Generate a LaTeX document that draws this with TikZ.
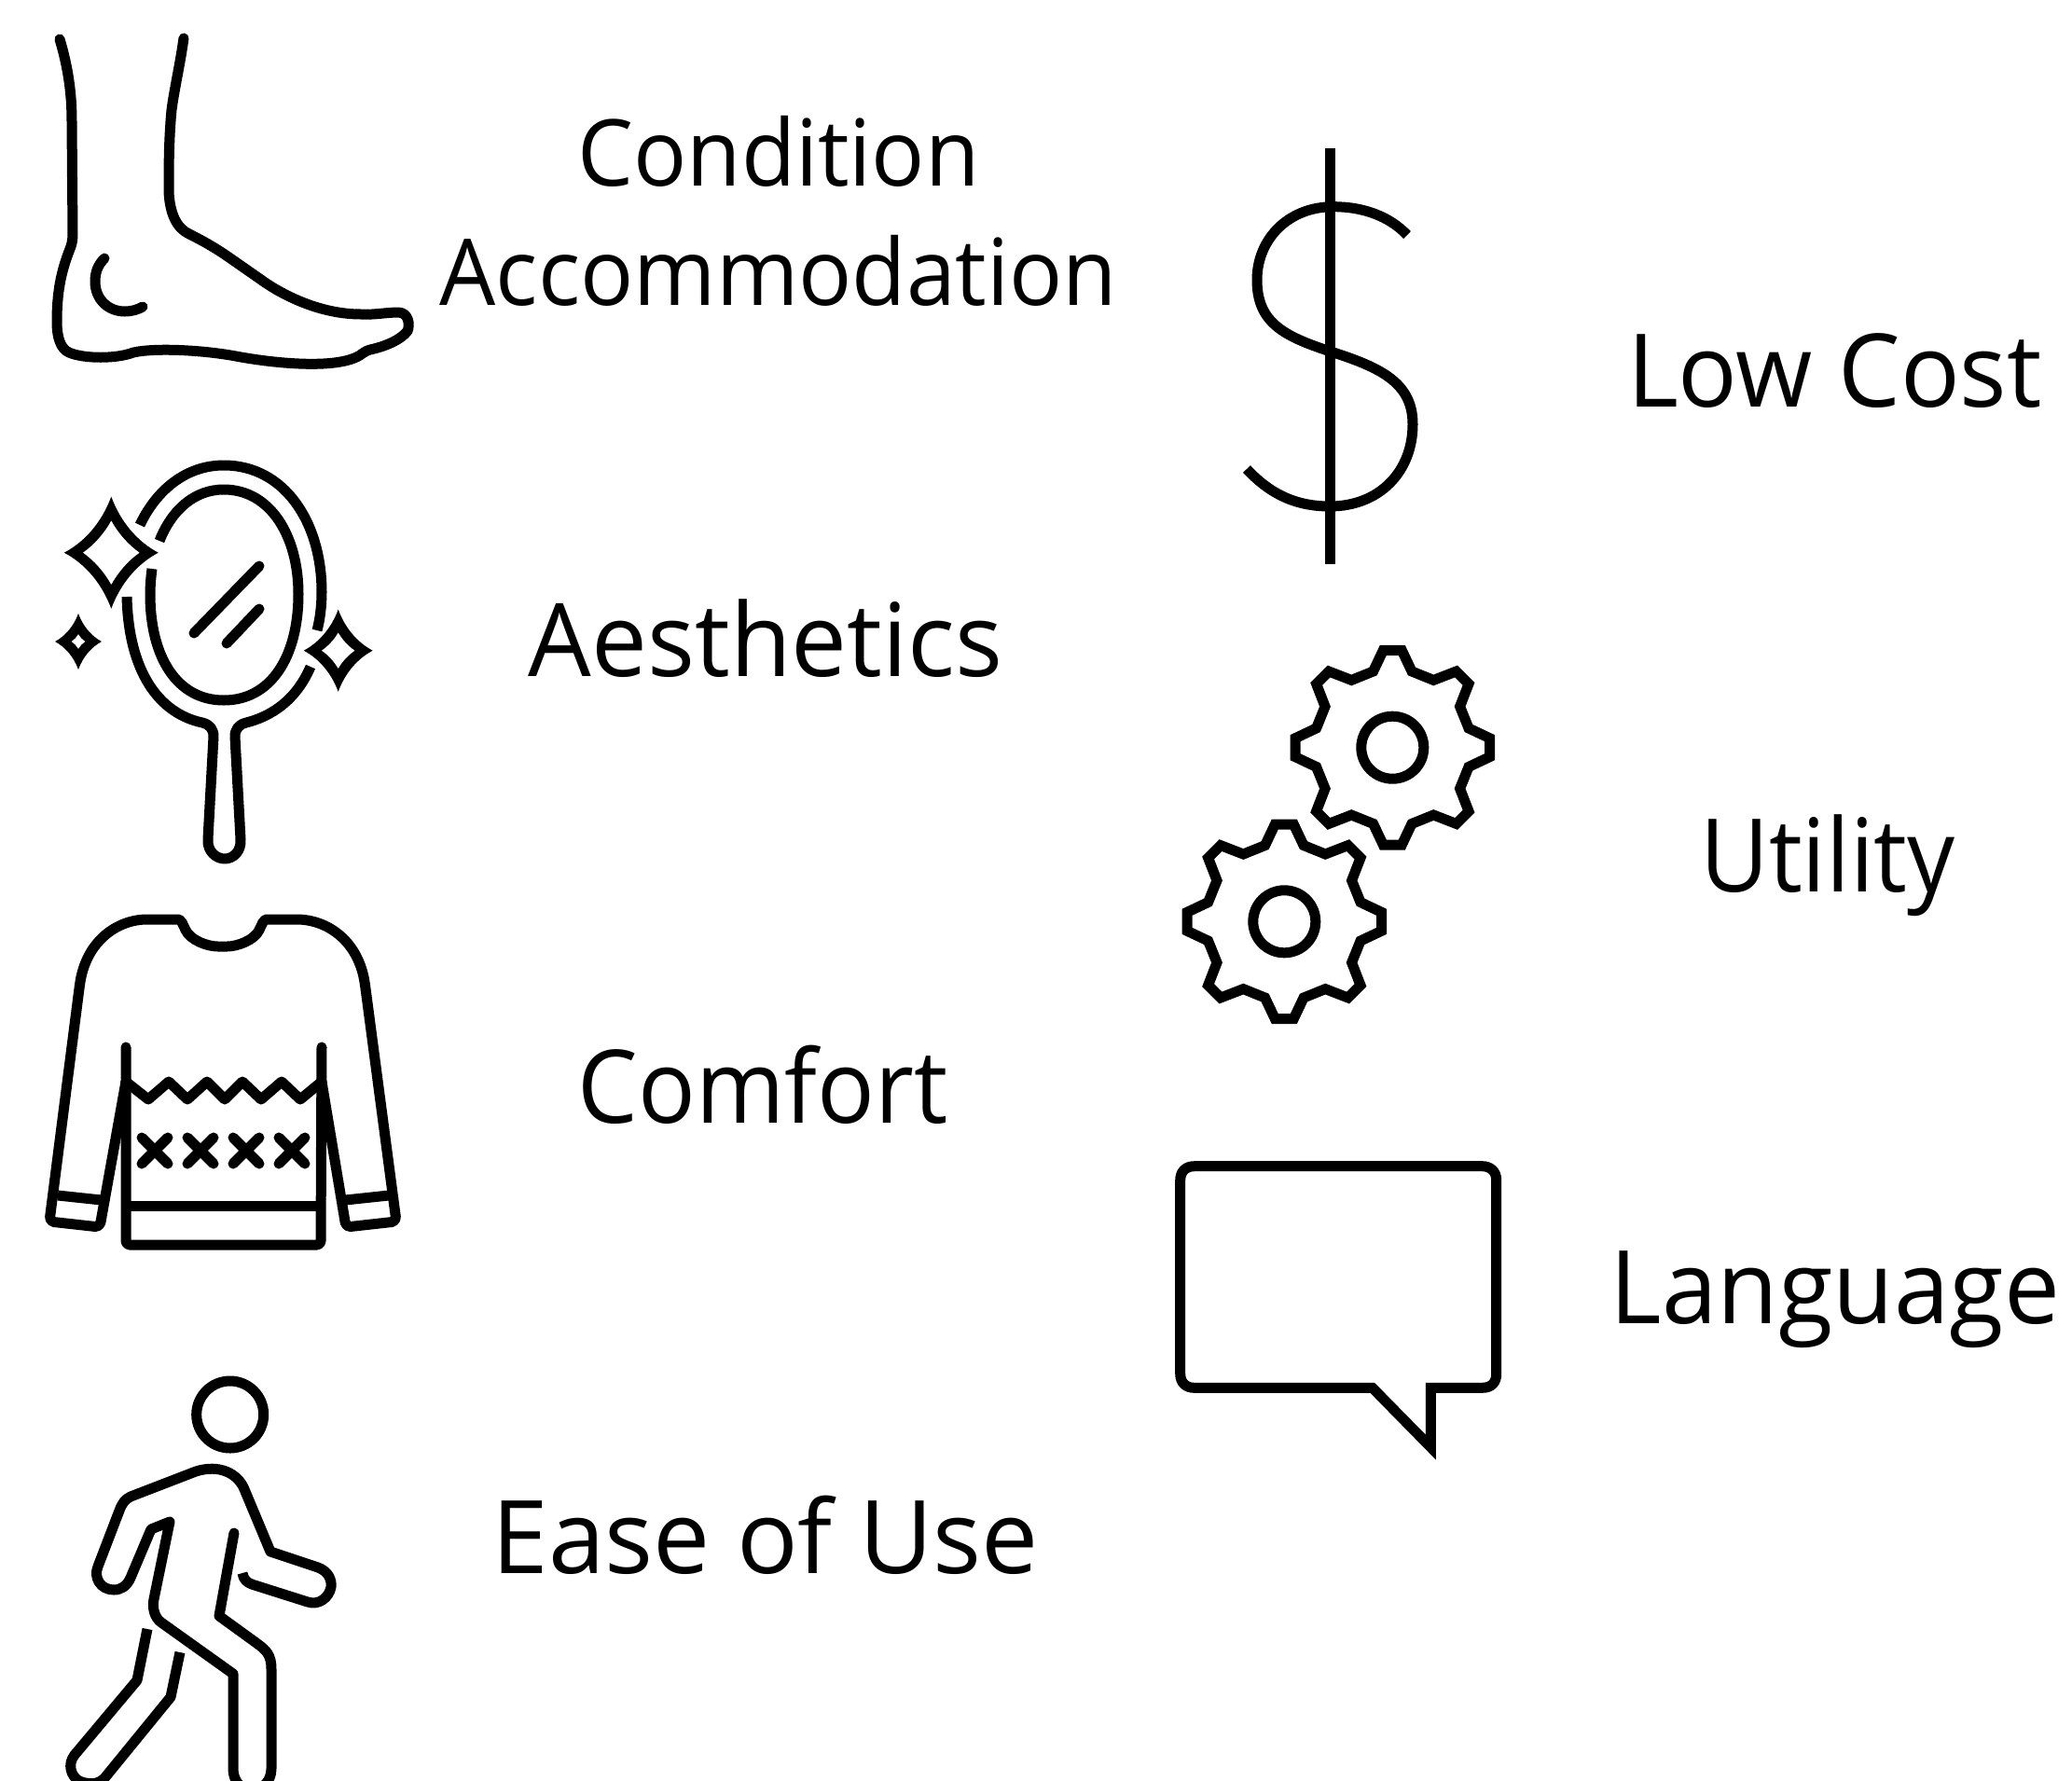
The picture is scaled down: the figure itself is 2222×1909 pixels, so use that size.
\documentclass[tikz,border=0pt]{standalone}
\usepackage{fontspec}
\setmainfont{Open Sans}
\newcommand\starpath[6]{%
  ({#1},{#2-#4}) .. controls ({#1+#5*#3},{#2-#6*#4}) and ({#1+#6*#3},{#2-#5*#4}) .. ({#1+#3},{#2})
  .. controls ({#1+#6*#3},{#2+#5*#4}) and ({#1+#5*#3},{#2+#6*#4}) .. ({#1},{#2+#4})
  .. controls ({#1-#5*#3},{#2+#6*#4}) and ({#1-#6*#3},{#2+#5*#4}) .. ({#1-#3},{#2})
  .. controls ({#1-#6*#3},{#2-#5*#4}) and ({#1-#5*#3},{#2-#6*#4}) .. cycle}
\newcommand\spark[6]{\fill[even odd rule] \starpath{#1}{#2}{#3}{#4}{.2}{.55} \starpath{#1}{#2}{#5}{#6}{.25}{.6};}
\newcommand\gear[2]{%
\begin{scope}[shift={(#1,#2)}]
\draw[iconmiter] (10,-104.3)--(20.7,-81.7)--(44,-72.3)--(68.3,-81.7)--(81.7,-68.3)--(72.3,-44)--(81.7,-20.7)--(104.3,-10)
 --(104.3,10)--(81.7,20.7)--(72.3,44)--(81.7,68.3)--(68.3,81.7)--(44,72.3)--(20.7,81.7)--(10,104.3)
 --(-10,104.3)--(-20.7,81.7)--(-44,72.3)--(-68.3,81.7)--(-81.7,68.3)--(-72.3,44)--(-81.7,20.7)--(-104.3,10)
 --(-104.3,-10)--(-81.7,-20.7)--(-72.3,-44)--(-81.7,-68.3)--(-68.3,-81.7)--(-44,-72.3)--(-20.7,-81.7)--(-10,-104.3)--cycle;
\draw[iconmiter] (0,0) circle[radius=33.5];
\end{scope}}
\newcommand\sq[2]{\scalebox{#1}[1]{#2}}
\tikzset{
  icon/.style={line width=11pt,line cap=round,line join=round,black},
  iconbutt/.style={line width=11pt,line cap=butt,line join=round,black},
  iconmiter/.style={line width=11pt,line cap=butt,line join=miter,miter limit=10,black},
  label/.style={font=\fontsize{109}{128}\selectfont,align=center,inner sep=0pt,text=black,anchor=base},
  labelsmall/.style={font=\fontsize{99}{128}\selectfont,align=center,inner sep=0pt,text=black,anchor=center}
}
\begin{document}
\begin{tikzpicture}[x=1pt,y=-1pt]
\useasboundingbox (0,0) rectangle (2222,1909);
\clip (0,0) rectangle (2222,1909);
% foot
\draw[icon] (64,42) .. controls (73,72) and (77,100) .. (77,130) -- (78,250) .. controls (78,258) and (77,262) .. (75,267) .. controls (65,292) and (61,315) .. (61,345) .. controls (61,362) and (65,374) .. (74,378) .. controls (90,385) and (125,385) .. (143,378) .. controls (165,373) and (215,375) .. (253,382) .. controls (290,389) and (360,397) .. (386,381) .. controls (390,378) and (393,376) .. (397,375) .. controls (415,371) and (430,364) .. (437,355) .. controls (440,348) and (438,335) .. (427,335) .. controls (415,335) and (400,338) .. (387,337) .. controls (345,337) and (305,318) .. (280,300) -- (247,277) .. controls (230,265) and (215,257) .. (203,251) .. controls (190,245) and (182,230) .. (181,205) .. controls (181,180) and (181,150) .. (184,118) .. controls (187,95) and (193,70) .. (197,41);
\draw[icon] (112,277) .. controls (105,284) and (102,292) .. (102,302) .. controls (102,320) and (115,334) .. (134,334) .. controls (141,334) and (148,332) .. (153,329);
% mirror
\draw[iconbutt] (150,563) .. controls (168,525) and (200,499) .. (240,499) .. controls (305,499) and (345,560) .. (345,635) .. controls (345,650) and (343,665) .. (340,676);
\draw[iconbutt] (333,715) .. controls (318,750) and (292,768) .. (264,775) .. controls (256,777) and (252,782) .. (252,790) -- (258,900) .. controls (259,913) and (250,921) .. (241,921) .. controls (232,921) and (222,913) .. (223,900) -- (229,790) .. controls (229,782) and (225,777) .. (217,775) .. controls (170,765) and (138,720) .. (136,640);
\draw[iconbutt] (171,580) .. controls (185,545) and (210,525) .. (240,525) .. controls (290,525) and (320,575) .. (320,637) .. controls (320,705) and (290,751) .. (240,751) .. controls (190,751) and (161,705) .. (161,637) .. controls (161,628) and (162,618) .. (163,610);
\draw[icon] (278,607) -- (208,679);
\draw[icon] (278,653) -- (243,690);
\spark{119.3}{592.7}{50.5}{60}{30.5}{34.5}
\spark{84}{688}{25}{30}{7.5}{8}
\spark{362.7}{697.7}{37}{44}{18}{19.5}
% sweater
\draw[icon,rounded corners=5pt] (135,1160) -- (107,1316) -- (53,1310) -- (85,1060) .. controls (92,1010) and (125,986) .. (163,986) -- (187,986) .. controls (192,986) and (195,989) .. (197,993) .. controls (204,1008) and (222,1015) .. (238.5,1015) .. controls (255,1015) and (273,1008) .. (280,993) .. controls (282,989) and (285,986) .. (290,986) -- (313,986) .. controls (352,986) and (385,1010) .. (392,1060) -- (425,1310) -- (371,1316) -- (345,1160);
\draw[iconbutt] (62,1282) -- (109,1287);
\draw[iconbutt] (370,1287) -- (417,1282);
\draw[icon,rounded corners=4pt] (135,1123) -- (135,1335) -- (344,1335) -- (345,1123);
\draw[iconbutt] (135,1293) -- (344,1293);
\draw[icon] (135,1160) -- (159,1179) -- (181,1160) -- (201,1179) -- (222,1160) -- (241,1179) -- (260,1160) -- (280,1179) -- (302,1160) -- (322,1179) -- (345,1160);
\foreach \cx in {166,215,264,313} {
  \draw[icon] (\cx-14,1220) -- (\cx+14,1248);
  \draw[icon] (\cx-14,1248) -- (\cx+14,1220);
}
% walker
\draw[icon] (246.7,1517) circle[radius=36];
\draw[icon] (251,1644) -- (235,1733) -- (275,1762) .. controls (286,1770) and (291,1775) .. (291,1790) -- (291,1897) .. controls (291,1910) and (281,1920) .. (270,1920) .. controls (259,1920) and (250,1910) .. (250,1897) -- (250,1795) -- (173,1740) .. controls (166,1735) and (163,1725) .. (165,1715) -- (182,1632) -- (162,1640) -- (140,1692) .. controls (136,1701) and (130,1705) .. (122,1705) .. controls (108,1705) and (100,1692) .. (105,1680) -- (128,1620) .. controls (131,1612) and (134,1608) .. (140,1605) -- (210,1578) .. controls (235,1570) and (255,1580) .. (262,1597) -- (290,1664) -- (341,1681) .. controls (352,1685) and (356,1694) .. (355,1702) .. controls (353,1713) and (342,1722) .. (330,1718) -- (270,1699);
\draw[iconbutt] (270,1699) .. controls (265,1697) and (261,1694) .. (260,1687);
\draw[iconbutt] (158,1747) -- (147,1802) -- (80,1882) .. controls (72,1892) and (76,1905) .. (85,1910) .. controls (95,1914) and (105,1914) .. (112,1907) -- (183,1820) -- (193,1772);
% dollar
\draw[iconbutt] (1426,159.3) -- (1426,605);
\draw[iconbutt] (1509,252) .. controls (1490,232) and (1462,221.7) .. (1430,221.7) .. controls (1380,221.7) and (1348,258) .. (1348,300) .. controls (1348,345) and (1375,360) .. (1426,376.7) .. controls (1480,394) and (1515,410) .. (1515,455) .. controls (1515,505) and (1480,543) .. (1426,543) .. controls (1390,543) and (1362,530) .. (1337,503);
% gears
\gear{1493.3}{801.7}
\gear{1377.3}{988.3}
% speech bubble
\draw[iconmiter] (1534.3,1488.3) -- (1589.7,1488.3) .. controls (1600,1488.3) and (1604.7,1482) .. (1604.7,1473.3) -- (1604.7,1265.7) .. controls (1604.7,1256) and (1598,1250.7) .. (1589.7,1250.7) -- (1280.7,1250.7) .. controls (1271,1250.7) and (1265.7,1257) .. (1265.7,1265.7) -- (1265.7,1473.3) .. controls (1265.7,1483) and (1272,1488.3) .. (1280.7,1488.3) -- (1471.7,1488.3) -- (1534.3,1552) -- cycle;
% labels
\node[labelsmall] (cond) at (835,226.5) {\sq{.96}{Condition}\\\sq{.96}{Accommodation}};
\node[label] (aes) at (821,725) {\sq{.98}{Aesthetics}};
\node[label] (com) at (818,1204) {\sq{.94}{Comfort}};
\node[label] (ease) at (820.6,1687) {Ease of Use};
\node[label] (cost) at (1967.4,436) {\sq{.97}{Low Cost}};
\node[label] (util) at (1960,956) {\sq{.93}{Utility}};
\node[label] (lang) at (1968,1419) {\sq{.98}{Language}};
\end{tikzpicture}
\end{document}
